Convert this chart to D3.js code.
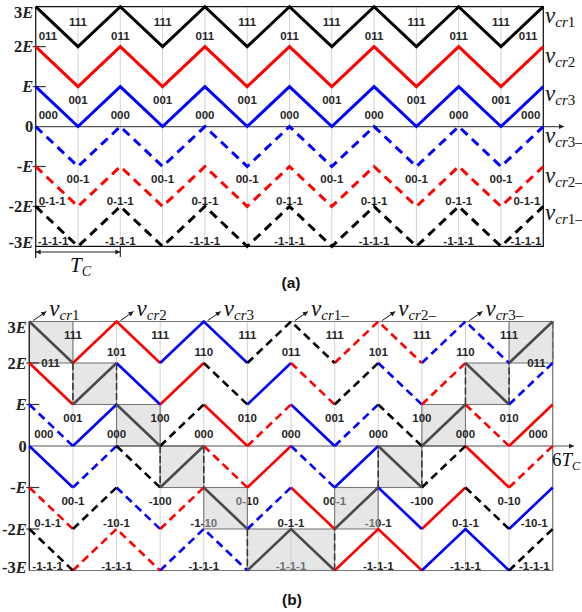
<!DOCTYPE html>
<html><head><meta charset="utf-8">
<script src="https://cdn.jsdelivr.net/npm/d3@7"></script>
<style>body{margin:0;background:#fff}svg{display:block}</style>
</head><body>
<svg id="c" width="582" height="612"></svg>
<script>
// ---------------- DATA ----------------
const vertices = d3.range(13);              // half-period vertices 0..12 (6 carrier periods)
const levelTicks = [3, 2, 1, 0, -1, -2, -3];
const levelTickNum = ["3", "2", "", "0", "-", "-2", "-3"];
const levelTickE = [true, true, true, false, true, true, true];
const carrierNames = ["vcr1", "vcr2", "vcr3", "vcr3-", "vcr2-", "vcr1-"];
// (a) phase disposition: each carrier stays in one band (band L spans L*E .. (L+1)*E)
const bandA = [2, 1, 0, -1, -2, -3];
// (b) rotated carriers: band occupied during each half period
const bandB_vcr1  = [2, 1, 0, -1, -2, -3, -3, -2, -1, 0, 1, 2];
const bandB_vcr2  = [1, 2, 2, 1, 0, -1, -2, -3, -3, -2, -1, 0];
const bandB_vcr3  = [-1, 0, 1, 2, 2, 1, 0, -1, -2, -3, -3, -2];
const bandB_vcr3m = [0, -1, -2, -3, -3, -2, -1, 0, 1, 2, 2, 1];
const bandB_vcr2m = [-2, -3, -3, -2, -1, 0, 1, 2, 2, 1, 0, -1];
const bandB_vcr1m = [-3, -2, -1, 0, 1, 2, 2, 1, 0, -1, -2, -3];
// switching-state labels (odd rows at troughs, even rows at peaks)
const a_row111  = ["111","111","111","111","111","111"];
const a_row011  = ["011","011","011","011","011","011","011"];
const a_row001  = ["001","001","001","001","001","001"];
const a_row000  = ["000","000","000","000","000","000","000"];
const a_row00m1 = ["00-1","00-1","00-1","00-1","00-1","00-1"];
const a_row0m1m1 = ["0-1-1","0-1-1","0-1-1","0-1-1","0-1-1","0-1-1","0-1-1"];
const a_rowm1m1m1 = ["-1-1-1","-1-1-1","-1-1-1","-1-1-1","-1-1-1","-1-1-1","-1-1-1"];
const b_row1 = ["111","111","111","111","111","111"];
const b_row2 = ["011","101","110","011","101","110","011"];
const b_row3 = ["001","100","010","001","100","010"];
const b_row4 = ["000","000","000","000","000","000","000"];
const b_row5 = ["00-1","-100","0-10","00-1","-100","0-10"];
const b_row6 = ["0-1-1","-10-1","-1-10","0-1-1","-10-1","0-1-1","-10-1"];
const b_row7 = ["-1-1-1","-1-1-1","-1-1-1","-1-1-1","-1-1-1","-1-1-1","-1-1-1"];
const arrowVertexB = [0, 2, 4, 6, 8, 10];   // where v_cr labels point in (b)

// ---------------- DRAW ----------------
const svg = d3.select("#c");
const defs = svg.append("defs");
function mk(id, color, w, h) {
  defs.append("marker").attr("id", id).attr("viewBox", "0 0 10 10")
    .attr("refX", 10).attr("refY", 5).attr("markerWidth", w).attr("markerHeight", h)
    .attr("markerUnits", "userSpaceOnUse").attr("orient", "auto-start-reverse")
    .append("path").attr("d", "M0,0L10,5L0,10z").attr("fill", color);
}
mk("arrS", "#222", 7, 5);

const colorOf = {vcr1: "#000", vcr2: "#ff0000", vcr3: "#0000ff", "vcr3-": "#0000ff", "vcr2-": "#ff0000", "vcr1-": "#000"};
const serif = "'Liberation Serif','Times New Roman',serif";
const sans = "'Liberation Sans',Arial,sans-serif";

function runsOf(bands) {
  const runs = []; let cur = null;
  bands.forEach((L, k) => {
    const s = [k, k % 2 === 0 ? L + 1 : L], e = [k + 1, k % 2 === 0 ? L : L + 1];
    if (cur && cur[cur.length - 1][1] === s[1]) cur.push(e);
    else { cur = [s, e]; runs.push(cur); }
  });
  return runs;
}

function frame(g, x, y) {
  g.append("g").selectAll("line").data(vertices).join("line")
    .attr("x1", d => x(d)).attr("x2", d => x(d)).attr("y1", y(3)).attr("y2", y(-3))
    .attr("stroke", "#d2d2d2").attr("stroke-width", 1);
}

function tickDy(d) { return d === 3 ? 11.5 : d === -3 ? 2 : 5.5; }

function axes(g, x, y, opt) {
  g.append("path").attr("d", `M${x(0)},${y(3)}H${x(12)}V${y(-3)}H${x(0)}`)
    .attr("fill", "none").attr("stroke", opt.border).attr("stroke-width", 1.2);
  g.append("line").attr("x1", x(0)).attr("x2", x(0)).attr("y1", y(3)).attr("y2", opt.axisBottom)
    .attr("stroke", "#222").attr("stroke-width", 1.3);
  g.append("line").attr("x1", x(0)).attr("x2", opt.arrowEnd).attr("y1", y(0)).attr("y2", y(0))
    .attr("stroke", "#555").attr("stroke-width", 1.2).attr("marker-end", "url(#arrS)");
  g.append("g").selectAll("line").data([2, 1, -1, -2]).join("line")
    .attr("x1", x(0) - 3).attr("x2", x(0) + 10).attr("y1", d => y(d)).attr("y2", d => y(d))
    .attr("stroke", "#333").attr("stroke-width", 1.2);
  const t = g.append("g").selectAll("text").data(levelTicks).join("text")
    .attr("x", x(0) - 2.5).attr("y", d => y(d) + tickDy(d)).attr("text-anchor", "end")
    .attr("font-family", serif).attr("font-size", 16.5).attr("font-weight", "bold").attr("fill", "#222");
  t.append("tspan").text((d, i) => levelTickNum[i]);
  t.append("tspan").attr("font-style", "italic").text((d, i) => levelTickE[i] ? "E" : "");
}

function carriers(g, x, y, bandsList, styleFn) {
  const line = d3.line().x(d => x(d[0])).y(d => y(d[1]));
  bandsList.forEach((bands, i) => {
    const st = styleFn(i);
    g.append("g").selectAll("path").data(runsOf(bands)).join("path")
      .attr("d", line).attr("fill", "none").attr("stroke", st.color)
      .attr("stroke-width", st.w).attr("stroke-dasharray", st.dash || null)
      .attr("stroke-linejoin", "miter").attr("stroke-linecap", "butt");
  });
}

function row(g, x, y, texts, odd, level, edge, edgeLevel) {
  texts.forEach((t, i) => {
    const v = odd ? 2 * i + 1 : 2 * i;
    let xx = x(v), anchor = "middle", lv = level;
    if (v === 0) { xx = x(0) + edge[0]; anchor = "start"; if (edgeLevel !== undefined) lv = edgeLevel; }
    if (v === 12) { xx = x(12) - edge[1]; anchor = "end"; if (edgeLevel !== undefined) lv = edgeLevel; }
    g.append("text").attr("x", xx).attr("y", y(lv)).attr("text-anchor", anchor)
      .attr("font-family", sans).attr("font-size", 11.5).attr("font-weight", "bold")
      .attr("fill", "#262626").text(t);
  });
}

function vlabel(g, xx, yy, sub, minus) {
  const t = g.append("text").attr("x", xx).attr("y", yy).attr("font-family", serif).attr("fill", "#111");
  t.append("tspan").attr("font-size", 23).attr("font-style", "italic").text("v");
  t.append("tspan").attr("font-size", 15).attr("font-style", "italic").attr("dy", 4).text("cr");
  t.append("tspan").attr("font-size", 15).text(sub + (minus ? "\u2013" : ""));
}

// ===== Panel (a) =====
const xA = d3.scaleLinear().domain([0, 12]).range([35.7, 543.3]);
const yA = d3.scaleLinear().domain([-3, 3]).range([246.4, 6.7]);
const gA = svg.append("g");
frame(gA, xA, yA);
axes(gA, xA, yA, {border: "#111", axisBottom: 258, arrowEnd: 564});
carriers(gA, xA, yA, bandA.map(L => d3.range(12).map(() => L)), i => ({
  color: colorOf[carrierNames[i]], w: 3, dash: carrierNames[i].endsWith("-") ? "9,6" : null
}));
row(gA, xA, yA, a_row111, true, 2.52, [3, 3]);
row(gA, xA, yA, a_row011, false, 2.17, [3, 6]);
row(gA, xA, yA, a_row001, true, 0.57, [3, 3]);
row(gA, xA, yA, a_row000, false, 0.19, [3, 3]);
row(gA, xA, yA, a_row00m1, true, -1.41, [3, 3]);
row(gA, xA, yA, a_row0m1m1, false, -1.96, [3, 3]);
row(gA, xA, yA, a_rowm1m1m1, false, -2.97, [2, 2]);
const rightBase = [23, 63, 101, 143, 183, 220];
carrierNames.forEach((n, i) => vlabel(gA, 545, rightBase[i], n.replace("vcr", "").replace("-", ""), n.endsWith("-")));
gA.append("line").attr("x1", xA(0)).attr("x2", xA(2)).attr("y1", 252).attr("y2", 252)
  .attr("stroke", "#222").attr("stroke-width", 1.1)
  .attr("marker-start", "url(#arrS)").attr("marker-end", "url(#arrS)");
gA.append("line").attr("x1", xA(2)).attr("x2", xA(2)).attr("y1", yA(-3)).attr("y2", 257)
  .attr("stroke", "#222").attr("stroke-width", 1.1);
const tc = gA.append("text").attr("x", 70).attr("y", 272).attr("font-family", serif).attr("fill", "#111");
tc.append("tspan").attr("font-size", 21).attr("font-style", "italic").text("T");
tc.append("tspan").attr("font-size", 14).attr("font-style", "italic").attr("dy", 4).text("C");
svg.append("text").attr("x", 291).attr("y", 288).attr("text-anchor", "middle")
  .attr("font-family", sans).attr("font-weight", "bold").attr("font-size", 15.5).attr("fill", "#111").text("(a)");

// ===== Panel (b) =====
const xB = d3.scaleLinear().domain([0, 12]).range([29.3, 552.7]);
const yB = d3.scaleLinear().domain([-3, 3]).range([570.5, 321.5]);
const gB = svg.append("g");
frame(gB, xB, yB);
// lower-half labels sit under the shaded boxes
row(gB, xB, yB, b_row5, true, -1.42, [3, 3]);
row(gB, xB, yB, b_row6, false, -1.95, [5, 5]);
row(gB, xB, yB, b_row7, false, -2.99, [3, 3]);
const boxes = [];
bandB_vcr1.forEach((L, k) => {
  const last = boxes[boxes.length - 1];
  if (last && last.L === L && last.k1 === k) last.k1 = k + 1;
  else boxes.push({L, k0: k, k1: k + 1});
});
gB.append("g").selectAll("rect").data(boxes).join("rect")
  .attr("x", d => xB(d.k0)).attr("width", d => xB(d.k1) - xB(d.k0))
  .attr("y", d => yB(d.L + 1)).attr("height", d => yB(d.L) - yB(d.L + 1))
  .attr("fill", "#c8c8c8").attr("fill-opacity", 0.45)
  .attr("stroke", "#7a7a7a").attr("stroke-width", 1.1);
const jumps = [];
for (let k = 1; k < 12; k++) {
  const L0 = bandB_vcr1[k - 1], L1 = bandB_vcr1[k];
  const endV = (k - 1) % 2 === 0 ? L0 : L0 + 1, startV = k % 2 === 0 ? L1 + 1 : L1;
  if (endV !== startV) jumps.push({k, a: endV, b: startV});
}
jumps.push({k: 12, a: 3, b: 2});
gB.append("g").selectAll("line").data(jumps).join("line")
  .attr("x1", d => xB(d.k)).attr("x2", d => xB(d.k)).attr("y1", d => yB(d.a)).attr("y2", d => yB(d.b))
  .attr("stroke", "#333").attr("stroke-width", 1.5).attr("stroke-dasharray", "7,3");
// upper-half labels above the boxes
row(gB, xB, yB, b_row1, true, 2.58, [3, 3]);
row(gB, xB, yB, b_row2, false, 2.17, [12, 7], 1.9);
row(gB, xB, yB, b_row3, true, 0.58, [3, 3]);
row(gB, xB, yB, b_row4, false, 0.19, [5, 5]);
axes(gB, xB, yB, {border: "#777", axisBottom: yB(-3), arrowEnd: 574});
const bandsB = [bandB_vcr2, bandB_vcr3, bandB_vcr3m, bandB_vcr2m, bandB_vcr1m, bandB_vcr1];
const namesB = ["vcr2", "vcr3", "vcr3-", "vcr2-", "vcr1-", "vcr1"];
carriers(gB, xB, yB, bandsB, i => ({
  color: namesB[i] === "vcr1" ? "#4a4a4a" : colorOf[namesB[i]], w: 2.6,
  dash: namesB[i].endsWith("-") ? "8,5" : null
}));
const arrowNames = ["vcr1", "vcr2", "vcr3", "vcr1-", "vcr2-", "vcr3-"];
arrowVertexB.forEach((v, i) => {
  const px = xB(v), py = yB(3);
  gB.append("line").attr("x1", px + 4).attr("y1", py - 1).attr("x2", px + 17).attr("y2", py - 10)
    .attr("stroke", "#111").attr("stroke-width", 1).attr("marker-end", "url(#arrS)");
  const n = arrowNames[i];
  vlabel(gB, px + 20, 316, n.replace("vcr", "").replace("-", ""), n.endsWith("-"));
});
const t6 = gB.append("text").attr("x", 552).attr("y", 466).attr("font-family", serif).attr("fill", "#111");
t6.append("tspan").attr("font-size", 19).text("6");
t6.append("tspan").attr("font-size", 19).attr("font-style", "italic").text("T");
t6.append("tspan").attr("font-size", 12).attr("font-style", "italic").attr("dy", 4).text("C");
svg.append("text").attr("x", 292).attr("y", 605).attr("text-anchor", "middle")
  .attr("font-family", sans).attr("font-weight", "bold").attr("font-size", 15.5).attr("fill", "#111").text("(b)");
</script>
</body></html>
